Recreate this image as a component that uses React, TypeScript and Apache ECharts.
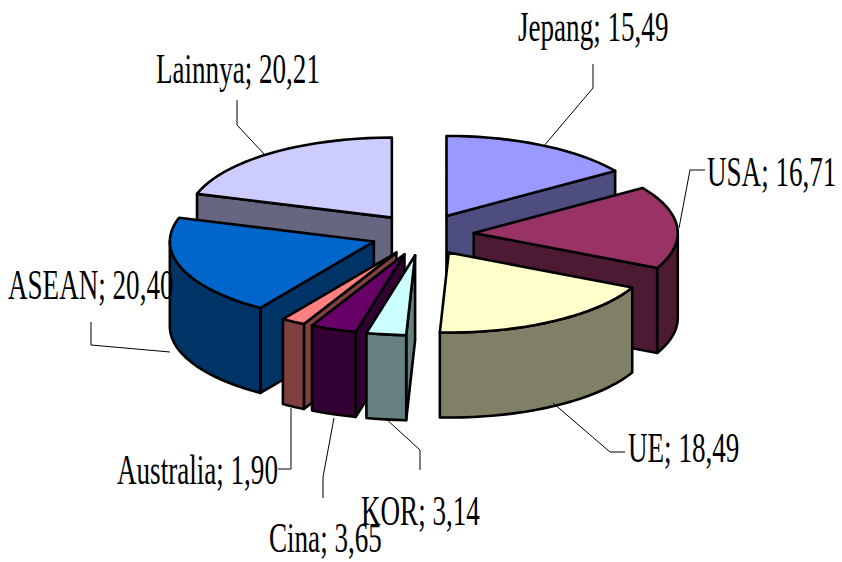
import React, { useEffect, useRef } from "react";
import * as echarts from "echarts";

// Share of each partner, clockwise from twelve o'clock.
const partners = ["Jepang", "USA", "UE", "KOR", "Cina", "Australia", "ASEAN", "Lainnya"];
const shares = [15.49, 16.71, 18.49, 3.14, 3.65, 1.9, 20.4, 20.21];

const topColors = ["#9999FF", "#993366", "#FFFFCC", "#CCFFFF", "#660066", "#FF8080", "#0066CC", "#CCCCFF"];
const wallColors = ["#4D4D80", "#4D1A33", "#808066", "#668080", "#330033", "#804040", "#003366", "#666680"];

// Pie projection: ellipse radii, centre, thickness and how far each wedge is pulled out.
const CX = 422.4;
const CY = 234.5;
const RX = 204;
const RY = 80;
const DEPTH = 85;
const EXPLODE_X = 51.5;
const EXPLODE_Y = 21;
const ARC_STEP = 3;

const FONT_SIZE = 43;
const TEXT_SCALE_X = 0.63;

// Label top-left corners and leader routes, in partner order.
const labelAnchors: number[][] = [
  [518, 5],
  [707, 150],
  [628, 426],
  [361, 489],
  [269, 516],
  [117, 448],
  [8, 263],
  [156, 47],
];
const leaderRoutes: number[][][] = [
  [[543, 147], [593, 88], [593, 64]],
  [[679, 228], [690, 170], [705, 170]],
  [[553, 403], [610, 452], [625, 452]],
  [[385, 418], [420, 450], [420, 470]],
  [[334, 418], [323, 477], [323, 498]],
  [[291, 408], [291, 469], [278, 469]],
  [[170, 352], [91, 345], [91, 322]],
  [[265, 155], [237, 125], [237, 100]],
];

const total = shares.reduce((a, b) => a + b, 0);

type Wedge = { a0: number; a1: number; ax: number; ay: number };

const wedges: Wedge[] = (() => {
  let acc = 0;
  return shares.map((v) => {
    const a0 = (acc / total) * 360;
    acc += v;
    const a1 = (acc / total) * 360;
    const mid = (((a0 + a1) / 2) * Math.PI) / 180;
    return {
      a0,
      a1,
      ax: CX + EXPLODE_X * Math.sin(mid),
      ay: CY - EXPLODE_Y * Math.cos(mid),
    };
  });
})();

const rim = (w: Wedge, deg: number): number[] => {
  const r = (deg * Math.PI) / 180;
  return [w.ax + RX * Math.sin(r), w.ay - RY * Math.cos(r)];
};

const arcPoints = (w: Wedge, from: number, to: number): number[][] => {
  const pts: number[][] = [];
  for (let d = from; d < to; d += ARC_STEP) pts.push(rim(w, d));
  pts.push(rim(w, to));
  return pts;
};

const drop = (p: number[]): number[] => [p[0], p[1] + DEPTH];

// Farther wedges are painted first so that nearer ones cover them.
const paintOrder = wedges.map((_, i) => i).sort((a, b) => wedges[a].ay - wedges[b].ay);

const outline = { stroke: "#000", lineWidth: 2.6, lineJoin: "round" as const };

function renderWedge(_params: any, api: any) {
  const i = api.value(0);
  const w = wedges[i];
  const apex = [w.ax, w.ay];
  const wall = wallColors[i];
  const children: any[] = [];
  const face = (points: number[][], fill: string) =>
    children.push({ type: "polygon", shape: { points }, style: { fill, ...outline } });

  // Cut faces are seen only when they turn toward the viewer.
  const s0 = Math.sin((w.a0 * Math.PI) / 180);
  const s1 = Math.sin((w.a1 * Math.PI) / 180);
  if (s0 < -1e-6) {
    const p = rim(w, w.a0);
    face([apex, p, drop(p), drop(apex)], wall);
  }
  if (s1 > 1e-6) {
    const p = rim(w, w.a1);
    face([apex, p, drop(p), drop(apex)], wall);
  }

  // Outer wall covers the near half of the rim only.
  const from = Math.max(w.a0, 90);
  const to = Math.min(w.a1, 270);
  if (to > from) {
    const arc = arcPoints(w, from, to);
    face([...arc, ...arc.map(drop).reverse()], wall);
  }

  face([apex, ...arcPoints(w, w.a0, w.a1)], topColors[i]);
  return { type: "group", children };
}

const formatShare = (v: number) => v.toFixed(2).replace(".", ",");

const leaderElements = leaderRoutes.map((points) => ({
  type: "polyline",
  shape: { points },
  style: { stroke: "#000", lineWidth: 1, fill: "none" },
  silent: true,
}));

const labelElements = partners.map((name, i) => ({
  type: "text",
  x: labelAnchors[i][0],
  y: labelAnchors[i][1],
  scaleX: TEXT_SCALE_X,
  style: {
    text: `${name}; ${formatShare(shares[i])}`,
    fill: "#000",
    font: `${FONT_SIZE}px "Liberation Serif"`,
    textAlign: "left",
    textVerticalAlign: "top",
  },
  silent: true,
}));

export default function App() {
  const ref = useRef<HTMLDivElement>(null);
  useEffect(() => {
    const chart = echarts.init(ref.current!, undefined, { renderer: "svg" });
    chart.setOption({
      animation: false,
      backgroundColor: "#fff",
      series: [
        {
          type: "custom",
          coordinateSystem: "none",
          silent: true,
          z: 1,
          clip: false,
          renderItem: renderWedge,
          data: paintOrder.map((i) => [i]),
        },
      ],
      graphic: { elements: [...leaderElements, ...labelElements].map((e) => ({ ...e, z: 10 })) },
    });
    return () => chart.dispose();
  }, []);
  return <div ref={ref} style={{ position: "absolute", left: 0, top: 0, width: 842, height: 562 }} />;
}
